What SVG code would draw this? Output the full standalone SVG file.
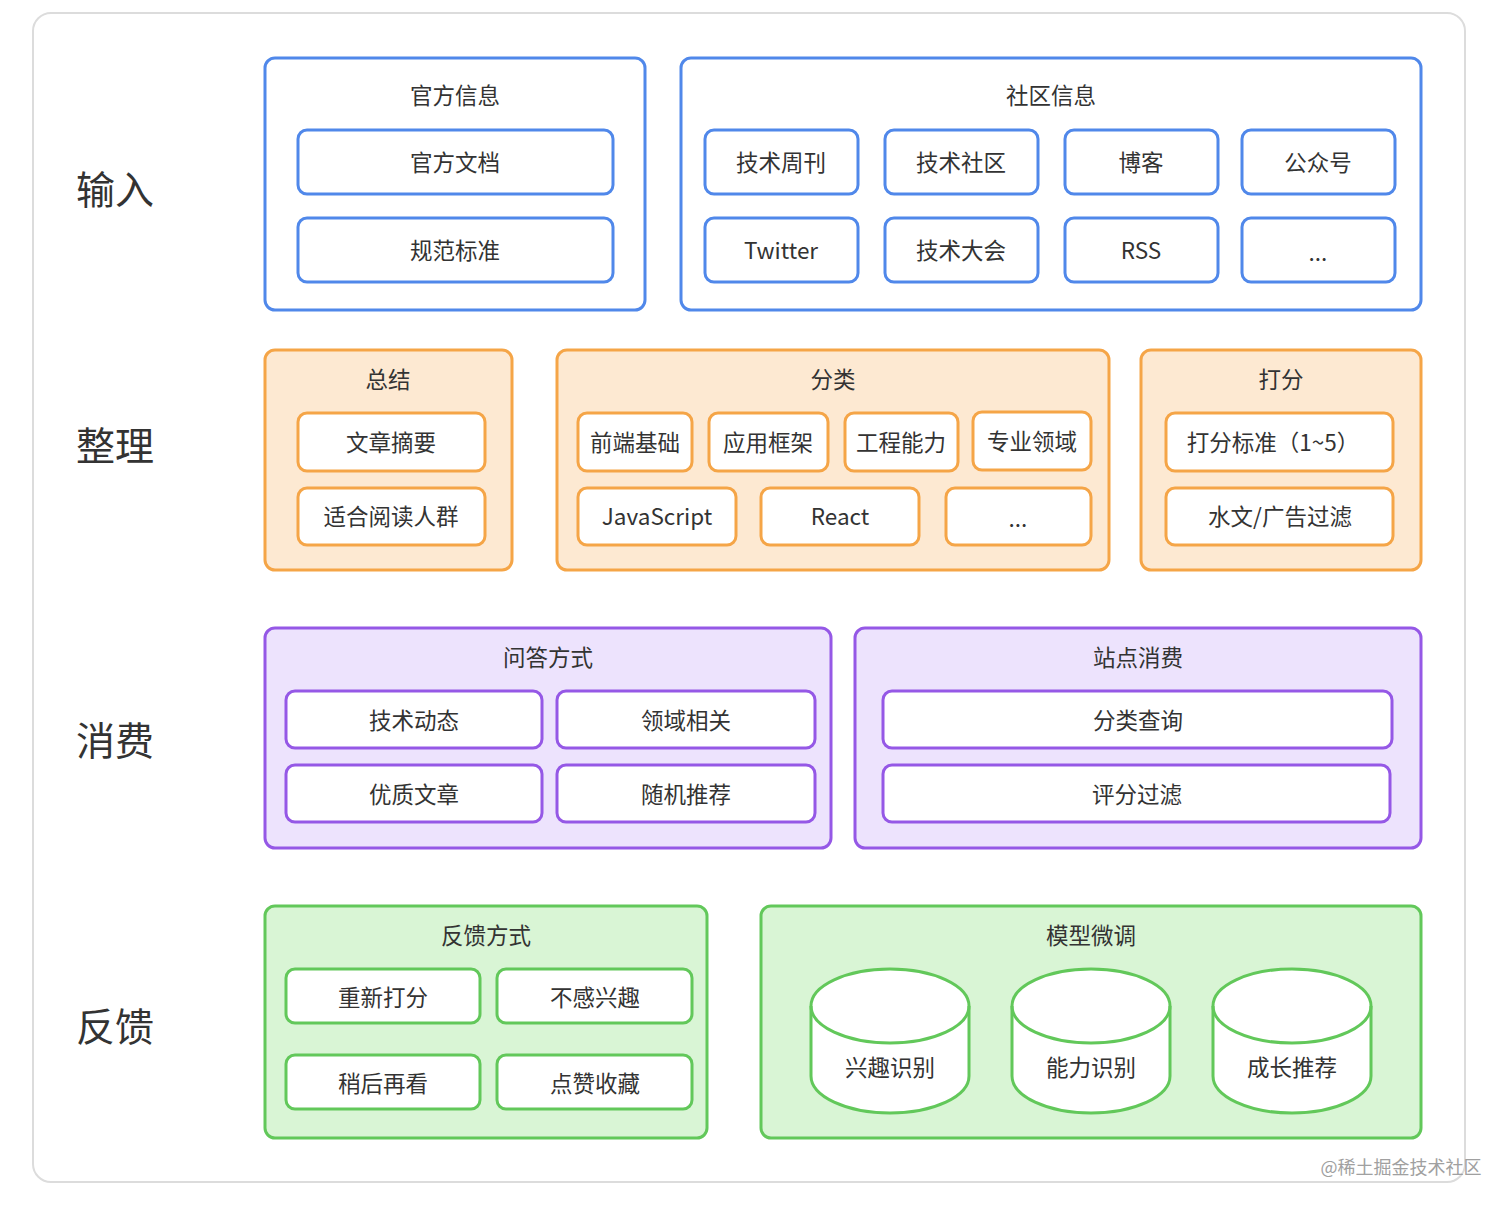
<svg xmlns="http://www.w3.org/2000/svg" width="1512" height="1208" viewBox="0 0 1512 1208">
<style>
text{font-family:"Noto Sans CJK SC","Noto Sans",sans-serif;fill:#333;text-anchor:middle;dominant-baseline:central;transform:translateY(-2px)}
.t{font-size:22.5px}
.lbl{font-size:39px;text-anchor:start;transform:translateY(-3px)}
.b{fill:#fff;stroke:#5088ea;stroke-width:3}
.bi{fill:#fff;stroke:#5088ea;stroke-width:3}
.o{fill:#fde9d2;stroke:#f5a547;stroke-width:3}
.oi{fill:#fff;stroke:#f5a547;stroke-width:3}
.p{fill:#ede3fd;stroke:#9558e6;stroke-width:3}
.pi{fill:#fff;stroke:#9558e6;stroke-width:3}
.g{fill:#d9f5d5;stroke:#62c85a;stroke-width:3}
.gi{fill:#fff;stroke:#62c85a;stroke-width:3}
</style>
<rect x="33" y="13" width="1432" height="1169" rx="18" fill="#fff" stroke="#dcdcdc" stroke-width="2"/>
<text class="lbl" x="76" y="190">输入</text>
<text class="lbl" x="76" y="446">整理</text>
<text class="lbl" x="76" y="741">消费</text>
<text class="lbl" x="76" y="1027">反馈</text>
<g id="official">
<rect class="b" x="265" y="58" width="380" height="252" rx="10"/>
<text class="t" x="455" y="96">官方信息</text>
<g id="doc"><rect class="bi" x="298" y="130" width="315" height="64" rx="9"/><text class="t" x="455" y="163">官方文档</text></g>
<g id="std"><rect class="bi" x="298" y="218" width="315" height="64" rx="9"/><text class="t" x="455" y="251">规范标准</text></g>
</g>
<g id="community">
<rect class="b" x="681" y="58" width="740" height="252" rx="10"/>
<text class="t" x="1051" y="96">社区信息</text>
<g id="weekly"><rect class="bi" x="705" y="130" width="153" height="64" rx="9"/><text class="t" x="781" y="163">技术周刊</text></g>
<g id="comm"><rect class="bi" x="885" y="130" width="153" height="64" rx="9"/><text class="t" x="961" y="163">技术社区</text></g>
<g id="blog"><rect class="bi" x="1065" y="130" width="153" height="64" rx="9"/><text class="t" x="1141" y="163">博客</text></g>
<g id="wechat"><rect class="bi" x="1242" y="130" width="153" height="64" rx="9"/><text class="t" x="1318" y="163">公众号</text></g>
<g id="twitter"><rect class="bi" x="705" y="218" width="153" height="64" rx="9"/><text class="t" x="781" y="251">Twitter</text></g>
<g id="conf"><rect class="bi" x="885" y="218" width="153" height="64" rx="9"/><text class="t" x="961" y="251">技术大会</text></g>
<g id="rss"><rect class="bi" x="1065" y="218" width="153" height="64" rx="9"/><text class="t" x="1141" y="251">RSS</text></g>
<g id="more1"><rect class="bi" x="1242" y="218" width="153" height="64" rx="9"/><text class="t" x="1318" y="253">...</text></g>
</g>
<g id="summary">
<rect class="o" x="265" y="350" width="247" height="220" rx="10"/>
<text class="t" x="388" y="380">总结</text>
<g id="abstract"><rect class="oi" x="298" y="413" width="187" height="58" rx="9"/><text class="t" x="391" y="443">文章摘要</text></g>
<g id="audience"><rect class="oi" x="298" y="488" width="187" height="57" rx="9"/><text class="t" x="391" y="517">适合阅读人群</text></g>
</g>
<g id="classify">
<rect class="o" x="557" y="350" width="552" height="220" rx="10"/>
<text class="t" x="833" y="380">分类</text>
<g id="fe"><rect class="oi" x="578" y="413" width="114" height="58" rx="9"/><text class="t" x="635" y="443">前端基础</text></g>
<g id="fw"><rect class="oi" x="709" y="413" width="119" height="58" rx="9"/><text class="t" x="768" y="443">应用框架</text></g>
<g id="eng"><rect class="oi" x="845" y="413" width="113" height="58" rx="9"/><text class="t" x="901" y="443">工程能力</text></g>
<g id="domain"><rect class="oi" x="973" y="412" width="118" height="58" rx="9"/><text class="t" x="1032" y="442">专业领域</text></g>
<g id="js"><rect class="oi" x="578" y="488" width="158" height="57" rx="9"/><text class="t" x="657" y="517">JavaScript</text></g>
<g id="react"><rect class="oi" x="761" y="488" width="158" height="57" rx="9"/><text class="t" x="840" y="517">React</text></g>
<g id="more2"><rect class="oi" x="946" y="488" width="145" height="57" rx="9"/><text class="t" x="1018" y="519">...</text></g>
</g>
<g id="score">
<rect class="o" x="1141" y="350" width="280" height="220" rx="10"/>
<text class="t" x="1281" y="380">打分</text>
<g id="scorestd"><rect class="oi" x="1166" y="413" width="227" height="58" rx="9"/><text class="t" x="1273" y="443">打分标准（1~5）</text></g>
<g id="filter"><rect class="oi" x="1166" y="488" width="227" height="57" rx="9"/><text class="t" x="1280" y="517">水文/广告过滤</text></g>
</g>
<g id="qa">
<rect class="p" x="265" y="628" width="566" height="220" rx="10"/>
<text class="t" x="548" y="658">问答方式</text>
<g id="trend"><rect class="pi" x="286" y="691" width="256" height="57" rx="9"/><text class="t" x="414" y="721">技术动态</text></g>
<g id="related"><rect class="pi" x="557" y="691" width="258" height="57" rx="9"/><text class="t" x="686" y="721">领域相关</text></g>
<g id="quality"><rect class="pi" x="286" y="765" width="256" height="57" rx="9"/><text class="t" x="414" y="795">优质文章</text></g>
<g id="random"><rect class="pi" x="557" y="765" width="258" height="57" rx="9"/><text class="t" x="686" y="795">随机推荐</text></g>
</g>
<g id="site">
<rect class="p" x="855" y="628" width="566" height="220" rx="10"/>
<text class="t" x="1138" y="658">站点消费</text>
<g id="catq"><rect class="pi" x="883" y="691" width="509" height="57" rx="9"/><text class="t" x="1138" y="721">分类查询</text></g>
<g id="scoref"><rect class="pi" x="883" y="765" width="507" height="57" rx="9"/><text class="t" x="1137" y="795">评分过滤</text></g>
</g>
<g id="feedback">
<rect class="g" x="265" y="906" width="442" height="232" rx="10"/>
<text class="t" x="486" y="936">反馈方式</text>
<g id="rescore"><rect class="gi" x="286" y="969" width="194" height="54" rx="9"/><text class="t" x="383" y="998">重新打分</text></g>
<g id="noint"><rect class="gi" x="497" y="969" width="195" height="54" rx="9"/><text class="t" x="595" y="998">不感兴趣</text></g>
<g id="later"><rect class="gi" x="286" y="1055" width="194" height="54" rx="9"/><text class="t" x="383" y="1084">稍后再看</text></g>
<g id="like"><rect class="gi" x="497" y="1055" width="195" height="54" rx="9"/><text class="t" x="595" y="1084">点赞收藏</text></g>
</g>
<g id="model">
<rect class="g" x="761" y="906" width="660" height="232" rx="10"/>
<text class="t" x="1091" y="936">模型微调</text>
<g id="cyl1">
<path class="gi" d="M811,1006 A79,37 0 0 1 969,1006 L969,1076 A79,37 0 0 1 811,1076 Z"/>
<path d="M811,1006 A79,37 0 0 0 969,1006" fill="none" stroke="#62c85a" stroke-width="3"/>
<text class="t" x="890" y="1068">兴趣识别</text>
</g>
<g id="cyl2">
<path class="gi" d="M1012,1006 A79,37 0 0 1 1170,1006 L1170,1076 A79,37 0 0 1 1012,1076 Z"/>
<path d="M1012,1006 A79,37 0 0 0 1170,1006" fill="none" stroke="#62c85a" stroke-width="3"/>
<text class="t" x="1091" y="1068">能力识别</text>
</g>
<g id="cyl3">
<path class="gi" d="M1213,1006 A79,37 0 0 1 1371,1006 L1371,1076 A79,37 0 0 1 1213,1076 Z"/>
<path d="M1213,1006 A79,37 0 0 0 1371,1006" fill="none" stroke="#62c85a" stroke-width="3"/>
<text class="t" x="1292" y="1068">成长推荐</text>
</g>
</g>
<g id="connectors"/>
<text x="1401" y="1168" style="font-size:18px;fill:#a0a0a0">@稀土掘金技术社区</text>
</svg>
